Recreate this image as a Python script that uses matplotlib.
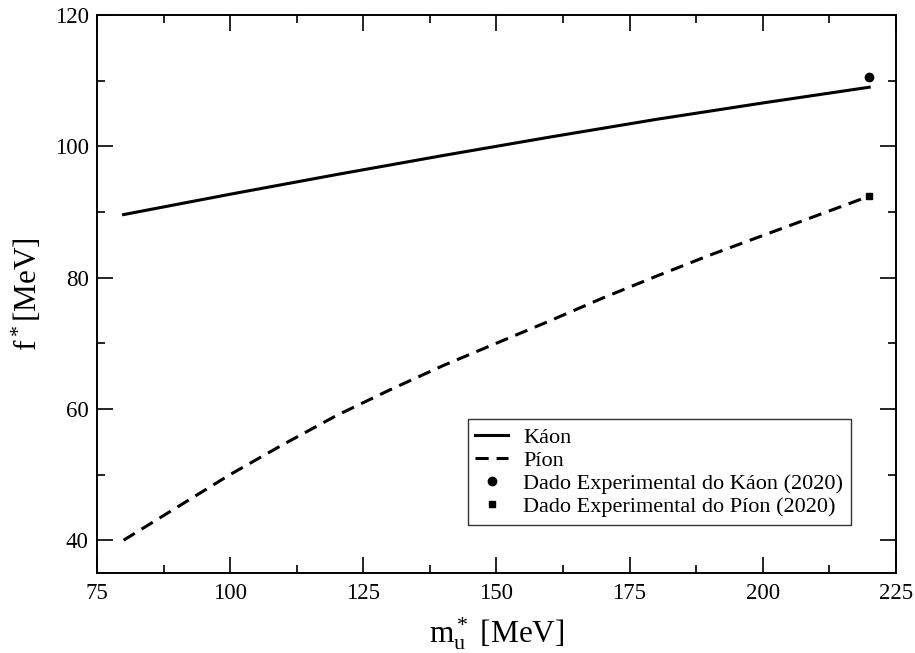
import matplotlib
matplotlib.use("Agg")
import matplotlib.pyplot as plt
from matplotlib.ticker import MultipleLocator

plt.rcParams['font.family'] = ['Liberation Serif', 'DejaVu Serif']
plt.rcParams['mathtext.fontset'] = 'custom'
plt.rcParams['mathtext.rm'] = 'Liberation Serif'
plt.rcParams['mathtext.it'] = 'Liberation Serif'

# f* as a function of the effective quark mass m*_u
m_kaon = [80, 100, 120, 140, 160, 180, 200, 220]
f_kaon = [89.6, 92.7, 95.7, 98.6, 101.4, 104.1, 106.6, 109.0]

m_pion = [80, 90, 100, 110, 120, 130, 140, 150, 160, 170, 180, 190, 200, 210, 220]
f_pion = [40.0, 45.0, 50.0, 54.6, 59.0, 62.9, 66.6, 70.0, 73.4, 76.9, 80.2, 83.4, 86.4, 89.4, 92.4]

# experimental values (2020)
m_exp = 220
f_kaon_exp = 110.5
f_pion_exp = 92.4

fig = plt.figure(figsize=(9.15, 6.53), dpi=100)
ax = fig.add_axes([0.106, 0.1225, 0.873, 0.8545])

ax.plot(m_kaon, f_kaon, color='black', lw=2.2, label='Káon')
ax.plot(m_pion, f_pion, color='black', lw=2.2, linestyle=(0, (4.3, 2.6)), label='Píon')
ax.plot([m_exp], [f_kaon_exp], 'o', color='black', ms=6, label='Dado Experimental do Káon (2020)')
ax.plot([m_exp], [f_pion_exp], 's', color='black', ms=5, label='Dado Experimental do Píon (2020)')

ax.set_xlim(75, 225)
ax.set_ylim(35, 120)
ax.xaxis.set_major_locator(MultipleLocator(25))
ax.xaxis.set_minor_locator(MultipleLocator(12.5))
ax.yaxis.set_major_locator(MultipleLocator(20))
ax.yaxis.set_minor_locator(MultipleLocator(10))
ax.tick_params(which='both', direction='in', top=True, right=True, width=1.2, labelsize=16.5)
ax.tick_params(which='major', length=11.5)
ax.tick_params(which='minor', length=6)
ax.tick_params(axis='x', which='major', pad=7)
ax.tick_params(axis='y', which='major', pad=6)
for s in ax.spines.values():
    s.set_linewidth(1.4)

ax.set_xlabel(r'm$^*_\mathrm{u}$ [MeV]', fontsize=22.5, labelpad=8)
ax.set_ylabel(r'f$^*$[MeV]', fontsize=22.5, labelpad=8)

leg = ax.legend(loc='lower right', bbox_to_anchor=(0.944, 0.086), fontsize=16, frameon=True,
                fancybox=False, edgecolor='black', handlelength=1.45, handletextpad=0.7,
                labelspacing=0.12, borderpad=0.35, borderaxespad=0)
leg.get_frame().set_linewidth(1.0)

fig.savefig('out.png', dpi=100)
